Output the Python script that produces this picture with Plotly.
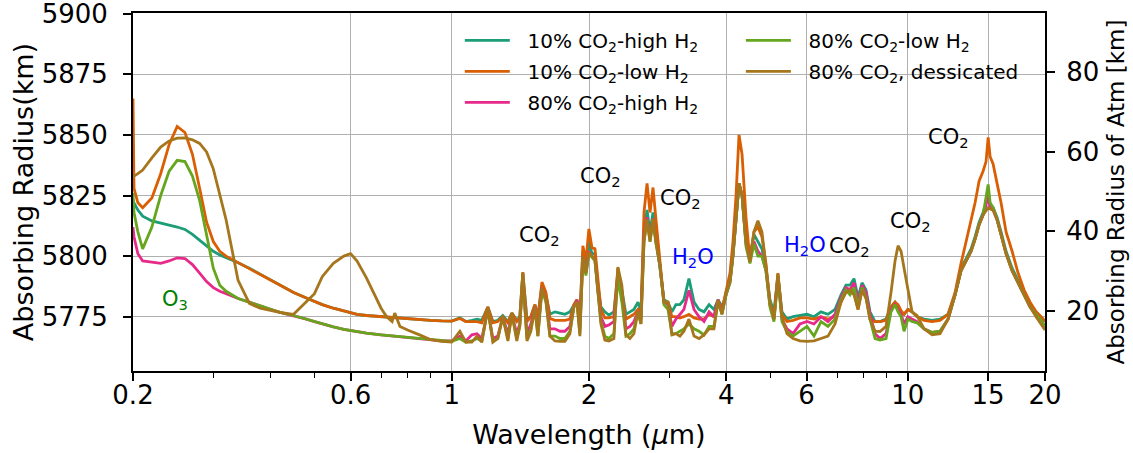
import math
import plotly.graph_objects as go

# ---------------- data ----------------
wavelength_um = [
    0.200, 0.201, 0.205, 0.21, 0.22, 0.23, 0.24, 0.25, 0.26, 0.27,
    0.28, 0.29, 0.30, 0.31, 0.32, 0.34, 0.36, 0.38, 0.40, 0.42,
    0.45, 0.48, 0.50, 0.52, 0.55, 0.58, 0.60, 0.62, 0.65, 0.70,
    0.72, 0.74, 0.75, 0.77, 0.80, 0.85, 0.90, 0.95,
    1.0, 1.042, 1.074, 1.107, 1.136, 1.164, 1.2, 1.231, 1.262, 1.294,
    1.328, 1.355, 1.389, 1.41, 1.432, 1.462, 1.491, 1.522, 1.545, 1.577,
    1.609, 1.642, 1.684, 1.727, 1.771, 1.816, 1.853, 1.882, 1.91, 1.939,
    1.969, 1.999, 2.03, 2.061, 2.092, 2.124, 2.167, 2.211, 2.268, 2.314,
    2.361, 2.41, 2.459, 2.509, 2.561, 2.60, 2.64, 2.681, 2.722, 2.763,
    2.805, 2.862, 2.92, 2.98, 3.04, 3.102, 3.165, 3.23, 3.313, 3.399,
    3.486, 3.575, 3.667, 3.759, 3.837, 3.915, 3.995, 4.076, 4.138, 4.202,
    4.266, 4.332, 4.419, 4.508, 4.60, 4.693, 4.789, 4.887, 4.987, 5.089,
    5.192, 5.299, 5.435, 5.604, 5.804, 6.013, 6.229, 6.453, 6.685, 6.927,
    7.14, 7.322, 7.472, 7.624, 7.78, 7.939, 8.101, 8.266, 8.478, 8.694,
    8.962, 9.19, 9.379, 9.523, 9.669, 9.817, 10.01, 10.22, 10.48, 10.86,
    11.31, 11.77, 12.26, 12.70, 13.09, 13.43, 13.77, 14.05, 14.34, 14.63,
    14.85, 15.01, 15.16, 15.39, 15.70, 16.02, 16.43, 16.94, 17.46, 18.00,
    18.55, 19.12, 19.61, 20.0,
]

co2_10_high_h2 = [
    5823, 5822, 5819, 5816.5, 5814.5, 5813.5, 5812.8, 5812, 5811, 5809,
    5806.5, 5804, 5802, 5800.5, 5799.5, 5797.3, 5795, 5792.5, 5790.2, 5788,
    5785, 5782.7, 5781.2, 5780, 5778.5, 5777.3, 5776.5, 5776, 5775.5, 5775,
    5774.8, 5774.6, 5774.5, 5774.3, 5774, 5773.8, 5773.5, 5773.3,
    5773.2, 5774.5, 5773, 5773.5, 5774, 5773.5, 5779, 5773, 5773.5, 5775.5,
    5773, 5776.5, 5773.5, 5775, 5793, 5774, 5775, 5780, 5775, 5788,
    5784, 5776, 5777, 5776.5, 5776, 5777, 5780, 5782, 5775, 5802,
    5796, 5806, 5801, 5801, 5788, 5779, 5777, 5775.7, 5777, 5793,
    5786, 5776, 5777, 5778, 5781, 5777, 5810, 5819, 5810, 5818,
    5808, 5796, 5782, 5781, 5777, 5780, 5780, 5782, 5790.7, 5781,
    5778, 5777, 5780, 5778, 5782, 5779, 5784, 5790, 5801, 5815,
    5830, 5825, 5806, 5800, 5809, 5806, 5803, 5795, 5782, 5777,
    5792, 5777, 5774, 5775, 5775.5, 5776, 5775, 5777, 5776, 5778,
    5784, 5788, 5788, 5790.7, 5783, 5789, 5786, 5777, 5773, 5773,
    5774, 5779, 5781, 5779, 5777, 5776, 5778, 5777, 5775, 5774,
    5773.5, 5774, 5776, 5784, 5795, 5799, 5803, 5808, 5814, 5818,
    5822, 5826, 5821, 5820, 5816, 5810, 5802, 5795, 5790, 5785,
    5780, 5777, 5774.5, 5773,
]

co2_10_low_h2 = [
    5865, 5828, 5822, 5820, 5824, 5834, 5846, 5853.5, 5851, 5842,
    5828, 5814, 5806, 5802, 5800, 5797.3, 5795, 5792.5, 5790.2, 5788,
    5785, 5782.7, 5781.2, 5780, 5778.5, 5777.3, 5776.5, 5776, 5775.5, 5775,
    5774.8, 5774.6, 5774.5, 5774.3, 5774, 5773.8, 5773.5, 5773.3,
    5773.2, 5774.3, 5773, 5773, 5773, 5772.5, 5779, 5772.5, 5773, 5775,
    5772.5, 5776.5, 5773, 5774.5, 5793.4, 5773, 5775, 5780, 5774.5, 5789.3,
    5785, 5774.3, 5773.5, 5773.5, 5773.5, 5774, 5780, 5782, 5774.5, 5804.3,
    5798, 5811.2, 5803.5, 5803, 5789, 5778, 5774.5, 5774.5, 5775, 5795,
    5785, 5774, 5775, 5776, 5778, 5776, 5818, 5830, 5818, 5828.3,
    5815, 5797, 5781, 5781, 5775, 5775, 5774.5, 5775, 5776, 5774.5,
    5774, 5774, 5776, 5775, 5781.8, 5778, 5785, 5793, 5806, 5825,
    5850, 5842, 5816, 5798, 5810, 5812, 5808, 5797, 5780, 5775,
    5793, 5776, 5773, 5773.5, 5774.5, 5774.5, 5774, 5775, 5774, 5775,
    5781, 5786, 5786.5, 5785, 5778, 5786, 5784, 5774, 5773, 5773,
    5773.5, 5779, 5781, 5780, 5777.5, 5776, 5778, 5777, 5775, 5773.5,
    5773, 5773.5, 5776, 5785, 5797, 5806, 5815, 5822, 5831, 5835,
    5839, 5849, 5841, 5838, 5830, 5822, 5810, 5802, 5793, 5786,
    5781, 5777, 5775, 5773,
]

co2_80_high_h2 = [
    5812, 5808, 5801, 5798, 5797.5, 5797, 5798, 5799.3, 5799, 5796.5,
    5793, 5789.5, 5787, 5785.5, 5784.5, 5782.5, 5781, 5779.3, 5778, 5776.8,
    5775.5, 5774, 5773, 5772, 5770.8, 5769.8, 5769.3, 5768.8, 5768.2, 5767.5,
    5767.3, 5767.1, 5767, 5766.8, 5766.5, 5766, 5765.5, 5765,
    5765, 5767, 5765, 5767.5, 5768, 5766, 5778, 5766, 5767, 5775,
    5768, 5776, 5768, 5772, 5791, 5768, 5772, 5779, 5769, 5787,
    5782, 5770, 5770, 5769, 5769, 5771, 5779, 5781.8, 5770, 5800,
    5793, 5802, 5800, 5798.5, 5786, 5775, 5771, 5771.6, 5773, 5792,
    5785.2, 5770, 5771, 5773, 5777, 5774, 5808, 5816, 5807, 5815.5,
    5806, 5796, 5781, 5780, 5771, 5774, 5776, 5778, 5785.9, 5778,
    5775, 5773, 5777, 5775, 5782, 5777, 5784, 5789, 5800, 5814,
    5830, 5825, 5805, 5799, 5806, 5802, 5800, 5794, 5780, 5774,
    5791, 5774, 5770, 5768, 5772, 5773, 5772, 5775, 5773, 5776,
    5783, 5787, 5786, 5789, 5781, 5788, 5785, 5776, 5768, 5766,
    5768, 5778, 5780, 5778, 5776, 5772, 5775, 5774, 5773, 5770,
    5768.5, 5769, 5774, 5784, 5794, 5798, 5802, 5807, 5813, 5817,
    5821, 5826, 5820, 5819, 5815, 5809, 5801, 5794, 5789, 5784,
    5779, 5776, 5773.5, 5771,
]

co2_80_low_h2 = [
    5826, 5818, 5810, 5803, 5812, 5825, 5835, 5839.5, 5839, 5833,
    5823, 5808, 5795, 5788, 5785.5, 5782.5, 5781, 5779.3, 5778, 5776.8,
    5775.5, 5774, 5773, 5772, 5770.8, 5769.8, 5769.3, 5768.8, 5768.2, 5767.5,
    5767.3, 5767.1, 5767, 5766.8, 5766.5, 5766, 5765.5, 5765,
    5764.8, 5766, 5764.5, 5765, 5766, 5765, 5778, 5765, 5766, 5775,
    5766, 5776, 5766, 5771, 5791, 5766, 5770, 5778, 5767, 5786,
    5781, 5767, 5767, 5766, 5766, 5769, 5779, 5781, 5768, 5799,
    5792, 5801, 5799.5, 5798, 5785, 5773, 5767, 5766, 5768, 5791,
    5781, 5767, 5768, 5770, 5777, 5772, 5806, 5815, 5806, 5815,
    5805, 5796, 5780, 5778, 5768, 5768, 5769, 5770, 5772, 5770,
    5769, 5767.5, 5771, 5771, 5781, 5776, 5784, 5789, 5800, 5814,
    5830, 5825, 5804, 5797, 5805, 5800, 5800, 5794, 5779, 5773,
    5791, 5773, 5768.9, 5767, 5769, 5771, 5767, 5773, 5771, 5774,
    5782, 5786, 5784, 5787, 5779, 5787, 5783, 5774, 5766, 5765.4,
    5766, 5777, 5780, 5777, 5775, 5769, 5774, 5773, 5772.5, 5770,
    5768.5, 5769, 5774, 5784, 5794, 5798, 5802, 5807, 5813, 5817,
    5824, 5829.6, 5822, 5820, 5815, 5809, 5801, 5794, 5789, 5784,
    5779, 5776, 5773.5, 5771,
]

co2_80_dessicated = [
    5832.5, 5833, 5834, 5835.5, 5840.5, 5845, 5847.5, 5848.7, 5848.8, 5848,
    5846.5, 5843, 5836, 5825, 5815, 5790, 5780.5, 5778.5, 5777.5, 5776.8,
    5776, 5781, 5784.5, 5791.5, 5797, 5800, 5801, 5798, 5791, 5778.5,
    5775, 5773, 5776.5, 5771, 5769.5, 5767.5, 5765.5, 5764.8,
    5764.5, 5769, 5764.5, 5764.5, 5767, 5764.5, 5778.4, 5764.5, 5766, 5775,
    5765, 5776.4, 5765, 5771, 5793, 5765, 5769, 5779, 5767, 5787,
    5782, 5767, 5765, 5764.8, 5764.8, 5768, 5779, 5781, 5767, 5800,
    5793, 5801.6, 5800, 5798.5, 5786, 5772, 5765.4, 5765, 5766, 5795.5,
    5788, 5767.5, 5766, 5768, 5777, 5772, 5806, 5815, 5806, 5815.3,
    5806, 5796.1, 5781, 5781, 5767.5, 5768, 5767, 5769, 5774, 5767,
    5766, 5767.5, 5770, 5770, 5781.8, 5776, 5785, 5790, 5801, 5815,
    5830, 5825, 5806, 5797.5, 5810, 5814.6, 5810, 5796, 5781, 5774,
    5792.7, 5775, 5768, 5766, 5765, 5764.8, 5765, 5766, 5767, 5772,
    5781, 5785, 5786, 5784, 5778, 5786, 5782.5, 5774, 5769, 5768.9,
    5771, 5785, 5798, 5804.3, 5802, 5795, 5786, 5777, 5775.5, 5770,
    5767.5, 5768, 5774, 5784, 5794, 5798, 5802, 5807, 5813, 5817,
    5819, 5820, 5819.4, 5819, 5815, 5809, 5801, 5794, 5789, 5784,
    5779, 5775, 5772, 5769.5,
]

series_names = [
    "\u00a0\u00a010% CO<sub>2</sub>-high H<sub>2</sub>",
    "\u00a0\u00a010% CO<sub>2</sub>-low H<sub>2</sub>",
    "\u00a0\u00a080% CO<sub>2</sub>-high H<sub>2</sub>",
    "\u00a0\u00a080% CO<sub>2</sub>-low H<sub>2</sub>",
    "\u00a0\u00a080% CO<sub>2</sub>, dessicated",
]
series_values = [co2_10_high_h2, co2_10_low_h2, co2_80_high_h2,
                 co2_80_low_h2, co2_80_dessicated]
series_colors = ["#1b9e77", "#d95f02", "#e7298a", "#66a61e", "#a6761d"]

x_tick_vals = [0.2, 0.6, 1, 2, 4, 6, 10, 15, 20]
x_tick_text = ["0.2", "0.6", "1", "2", "4", "6", "10", "15", "20"]
x_minor_vals = [0.3, 0.4, 0.5, 0.7, 0.8, 0.9, 3, 5, 7, 8, 9]
y_tick_vals = [5775, 5800, 5825, 5850, 5875, 5900]
y2_tick_vals = [20, 40, 60, 80]

# feature labels: (text, wavelength, radius, colour)
feature_labels = [
    ("O<sub>3</sub>", 0.2468, 5781.7, "#008000"),
    ("CO<sub>2</sub>", 1.561, 5808.3, "black"),
    ("CO<sub>2</sub>", 2.124, 5832.5, "black"),
    ("CO<sub>2</sub>", 3.182, 5823.5, "black"),
    ("H<sub>2</sub>O", 3.38, 5799.3, "#0000ff"),
    ("H<sub>2</sub>O", 5.95, 5804.2, "#0000ff"),
    ("CO<sub>2</sub>", 7.47, 5803.8, "black"),
    ("CO<sub>2</sub>", 10.12, 5814.0, "black"),
    ("CO<sub>2</sub>", 12.26, 5848.9, "black"),
]

for v in series_values:
    assert len(v) == len(wavelength_um), (len(v), len(wavelength_um))

# ---------------- figure ----------------
fig = go.Figure()
for i, (name, vals, col) in enumerate(zip(series_names, series_values, series_colors)):
    fig.add_trace(go.Scatter(
        x=wavelength_um, y=vals, mode="lines", name=name,
        line=dict(color=col, width=2.8),
        legend="legend" if i < 3 else "legend2",
        legendgroup=f"g{i}",
    ))

# invisible trace so the right-hand axis is drawn
fig.add_trace(go.Scatter(x=[None], y=[None], yaxis="y2", showlegend=False,
                         hoverinfo="skip", mode="lines"))

axis_common = dict(
    ticks="outside", ticklen=8, tickwidth=1.8, tickcolor="black",
    showline=True, linecolor="black", linewidth=2, zeroline=False,
    tickfont=dict(size=26, color="black"), ticklabeloverflow="allow",
)

annotations = []
for text, wl, r, col in feature_labels:
    annotations.append(dict(
        x=math.log10(wl), y=r, xref="x", yref="y", text=text,
        showarrow=False, font=dict(size=21, color=col),
        xanchor="center", yanchor="middle",
    ))

fig.update_layout(
    width=1133, height=453,
    margin=dict(l=133, r=88, t=13, b=82, autoexpand=False),
    paper_bgcolor="white", plot_bgcolor="white",
    font=dict(family="DejaVu Sans", size=25, color="black"),
    xaxis=dict(
        type="log", range=[math.log10(0.2), math.log10(20)],
        tickmode="array", tickvals=x_tick_vals, ticktext=x_tick_text,
        showgrid=True, gridcolor="#b0b0b0", gridwidth=1.3, mirror=True,
        ticklabelstandoff=-8,
        minor=dict(tickmode="array", tickvals=x_minor_vals, ticks="outside",
                   ticklen=4.5, tickwidth=1.3, tickcolor="black", showgrid=False),
        title=dict(text="Wavelength (<i>μ</i>m)", font=dict(size=27), standoff=16),
        **axis_common,
    ),
    yaxis=dict(
        range=[5752.6, 5900.3], tickmode="array", tickvals=y_tick_vals,
        showgrid=True, gridcolor="#b0b0b0", gridwidth=1.3, mirror=True,
        ticklabelstandoff=10,
        title=dict(text="Absorbing Radius(km)", font=dict(size=27), standoff=0),
        **axis_common,
    ),
    yaxis2=dict(
        overlaying="y", side="right", range=[4.9, 94.9],
        tickmode="array", tickvals=y2_tick_vals, showgrid=False,
        ticklabelstandoff=6,
        title=dict(text="Absorbing Radius of Atm [km]", font=dict(size=23), standoff=10),
        **axis_common,
    ),
    legend=dict(
        x=(460 - 133.3) / 911.7, y=0.978, xanchor="left", yanchor="top",
        bgcolor="rgba(0,0,0,0)", borderwidth=0, font=dict(size=20),
        itemwidth=45, traceorder="grouped", tracegroupgap=2,
    ),
    legend2=dict(
        x=(741 - 133.3) / 911.7, y=0.978, xanchor="left", yanchor="top",
        bgcolor="rgba(0,0,0,0)", borderwidth=0, font=dict(size=20),
        itemwidth=45, traceorder="grouped", tracegroupgap=2,
    ),
    annotations=annotations,
    showlegend=True,
)

fig.write_html("out.html", config={"displayModeBar": False},
               post_script="document.body.style.margin='0';")
